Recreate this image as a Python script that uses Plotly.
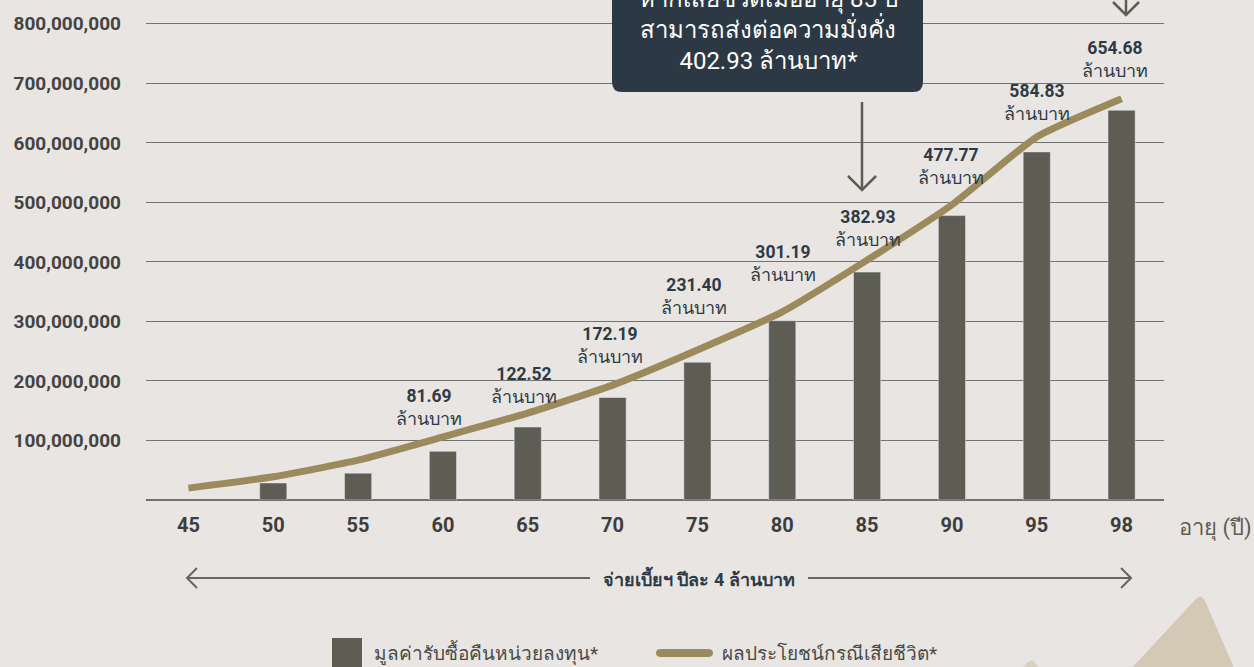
import plotly.graph_objects as go

# ---------------- data ----------------
ages = ["45", "50", "55", "60", "65", "70", "75", "80", "85", "90", "95", "98"]
redemption_value = [None, 28.6e6, 45e6, 81.69e6, 122.52e6, 172.19e6, 231.40e6,
                    301.19e6, 382.93e6, 477.77e6, 584.83e6, 654.68e6]
death_benefit = [20e6, 39e6, 67e6, 106e6, 146e6, 193e6, 252e6, 316e6,
                 402.93e6, 496e6, 610e6, 674e6]
value_labels = [None, None, None, "81.69", "122.52", "172.19", "231.40",
                "301.19", "382.93", "477.77", "584.83", "654.68"]
y_ticks = [100e6, 200e6, 300e6, 400e6, 500e6, 600e6, 700e6, 800e6]
unit_text = "ล้านบาท"
bar_name = "มูลค่ารับซื้อคืนหน่วยลงทุน*"
line_name = "ผลประโยชน์กรณีเสียชีวิต*"
box_lines = ["หากเสียชีวิตเมื่ออายุ 85 ปี", "สามารถส่งต่อความมั่งคั่ง", "402.93 ล้านบาท*"]
premium_text = "จ่ายเบี้ยฯ ปีละ 4 ล้านบาท"
x_title = "อายุ (ปี)"

# ---------------- style ----------------
W, H = 1254, 667
ML, MR, MT, MB = 146, 90, 0, 167
BG = "#e8e5e2"
BAR_C = "#5d5d54"
LINE_C = "#9b8a5c"
NAVY = "#2e3b46"
GRID_C = "#727272"
FONT = "Roboto, Noto Sans, sans-serif"
# label offsets (pixels) relative to bar top
label_dy = {"60": 44, "65": 42, "70": 52, "75": 66, "80": 57, "85": 44, "90": 49, "95": 49, "98": 51}
label_dx = {"60": -14, "65": -4, "70": -3, "75": -3, "80": 1, "85": 1, "90": -1, "95": 0, "98": -7}

PW = W - ML - MR
PH = H - MT - MB


def X(px):
    return (px - ML) / PW


def Y(py):
    return (MT + PH - py) / PH


fig = go.Figure()

fig.add_trace(go.Bar(
    x=ages, y=redemption_value, name=bar_name, marker_color=BAR_C,
    width=0.32, showlegend=False,
))
fig.add_trace(go.Scatter(
    x=ages, y=death_benefit, name=line_name, mode="lines",
    line=dict(color=LINE_C, width=7, shape="spline", smoothing=0.5),
    showlegend=False,
))

annotations = []
for i, (a, v, lab) in enumerate(zip(ages, redemption_value, value_labels)):
    if lab is None:
        continue
    annotations.append(dict(
        x=i, y=v, xref="x", yref="y", yanchor="middle", xanchor="center",
        yshift=label_dy[a], xshift=label_dx[a], showarrow=False,
        text=f"<b><span style='font-size:17.5px'>{lab}</span></b><br>{unit_text}",
        font=dict(family=FONT, size=18, color=NAVY),
    ))

# callout box text
annotations.append(dict(
    x=X(768), y=Y(28), xref="paper", yref="paper", xanchor="center", yanchor="middle",
    showarrow=False, text="<br>".join(box_lines),
    font=dict(family=FONT, size=24, color="white"),
))
# x title
annotations.append(dict(
    x=X(1215), y=Y(528), xref="paper", yref="paper", xanchor="center", yanchor="middle",
    showarrow=False, text=x_title, font=dict(family=FONT, size=22, color=BAR_C),
))
# premium arrow text
annotations.append(dict(
    x=X(699), y=Y(578), xref="paper", yref="paper", xanchor="center", yanchor="middle",
    showarrow=False, text=f"<b>{premium_text}</b>", font=dict(family=FONT, size=18, color=NAVY),
))
# legend texts
annotations.append(dict(
    x=X(372), y=Y(653), xref="paper", yref="paper", xanchor="left", yanchor="middle",
    showarrow=False, text=bar_name, font=dict(family=FONT, size=19, color="#4a4a48"),
))
annotations.append(dict(
    x=X(720), y=Y(653), xref="paper", yref="paper", xanchor="left", yanchor="middle",
    showarrow=False, text=line_name, font=dict(family=FONT, size=19, color="#4a4a48"),
))

shapes = []
# decorative triangles (bottom right)
shapes.append(dict(
    type="path", xref="paper", yref="paper", layer="below", line=dict(width=0),
    fillcolor="#d3c9b5",
    path=(f"M {X(1102)},{Y(700)} L {X(1195)},{Y(600)} "
          f"Q {X(1201)},{Y(593)} {X(1205)},{Y(601)} L {X(1248)},{Y(700)} Z"),
))
shapes.append(dict(
    type="path", xref="paper", yref="paper", layer="below", line=dict(width=0),
    fillcolor="#d8cfbf",
    path=(f"M {X(1016)},{Y(675)} L {X(1028)},{Y(662)} "
          f"Q {X(1031)},{Y(659)} {X(1034)},{Y(662)} L {X(1046)},{Y(675)} Z"),
))
# callout box (rounded bottom corners)
r = 10
L_, R_, T_, B_ = 612, 923, -60, 92
shapes.append(dict(
    type="path", xref="paper", yref="paper", layer="above", line=dict(width=0),
    fillcolor="#2c3945",
    path=(f"M {X(L_)},{Y(T_)} L {X(L_)},{Y(B_ - r)} Q {X(L_)},{Y(B_)} {X(L_ + r)},{Y(B_)} "
          f"L {X(R_ - r)},{Y(B_)} Q {X(R_)},{Y(B_)} {X(R_)},{Y(B_ - r)} L {X(R_)},{Y(T_)} Z"),
))
ARROW_C = "#5d5d54"
# arrow down to age 85
shapes.append(dict(type="path", xref="paper", yref="paper", line=dict(color=ARROW_C, width=2.5),
                   path=f"M {X(862)},{Y(102)} L {X(862)},{Y(189)}"))
shapes.append(dict(type="path", xref="paper", yref="paper", line=dict(color=ARROW_C, width=2.5),
                   path=f"M {X(848)},{Y(176)} L {X(862)},{Y(190)} L {X(876)},{Y(176)}"))
# arrow down to age 98 (top, partly off page)
shapes.append(dict(type="path", xref="paper", yref="paper", line=dict(color=ARROW_C, width=2.5),
                   path=f"M {X(1126)},{Y(-5)} L {X(1126)},{Y(14)}"))
shapes.append(dict(type="path", xref="paper", yref="paper", line=dict(color=ARROW_C, width=2.5),
                   path=f"M {X(1113)},{Y(2)} L {X(1126)},{Y(15)} L {X(1139)},{Y(2)}"))
# premium double arrow
PC = "#66665e"
shapes.append(dict(type="path", xref="paper", yref="paper", line=dict(color=PC, width=2),
                   path=f"M {X(187)},{Y(578)} L {X(590)},{Y(578)}"))
shapes.append(dict(type="path", xref="paper", yref="paper", line=dict(color=PC, width=2),
                   path=f"M {X(808)},{Y(578)} L {X(1131)},{Y(578)}"))
shapes.append(dict(type="path", xref="paper", yref="paper", line=dict(color=PC, width=2),
                   path=f"M {X(197)},{Y(568)} L {X(187)},{Y(578)} L {X(197)},{Y(588)}"))
shapes.append(dict(type="path", xref="paper", yref="paper", line=dict(color=PC, width=2),
                   path=f"M {X(1121)},{Y(568)} L {X(1131)},{Y(578)} L {X(1121)},{Y(588)}"))
# legend swatches
shapes.append(dict(type="rect", xref="paper", yref="paper", line=dict(width=0), fillcolor=BAR_C,
                   x0=X(332), x1=X(362), y0=Y(638), y1=Y(672)))
shapes.append(dict(type="path", xref="paper", yref="paper", line=dict(width=0), fillcolor=LINE_C,
                   path=(f"M {X(661)},{Y(649)} L {X(708)},{Y(649)} Q {X(713)},{Y(649)} {X(713)},{Y(653)} "
                         f"Q {X(713)},{Y(657)} {X(708)},{Y(657)} L {X(661)},{Y(657)} "
                         f"Q {X(656)},{Y(657)} {X(656)},{Y(653)} Q {X(656)},{Y(649)} {X(661)},{Y(649)} Z")))

fig.update_layout(
    width=W, height=H,
    margin=dict(l=ML, r=MR, t=MT, b=MB, autoexpand=False),
    paper_bgcolor=BG, plot_bgcolor=BG,
    showlegend=False,
    shapes=shapes, annotations=annotations,
    font=dict(family=FONT),
    xaxis=dict(
        type="category", categoryorder="array", categoryarray=ages,
        range=[-0.5, len(ages) - 0.5], showgrid=False, showline=False, zeroline=False,
        tickfont=dict(family=FONT, size=20, color="#3d3d3d", weight="bold"),
        ticks="", ticklabelstandoff=11, fixedrange=True, automargin=False,
    ),
    yaxis=dict(
        range=[0, 840e6], tickvals=y_ticks, tickformat=",",
        showgrid=True, gridcolor=GRID_C, gridwidth=1.3,
        zeroline=True, zerolinecolor=GRID_C, zerolinewidth=1.5,
        showline=False, ticks="", ticklabelstandoff=24,
        tickfont=dict(family=FONT, size=19, color="#444444", weight="bold"),
        fixedrange=True, automargin=False,
    ),
)

fig.write_html(
    "out.html",
    config={"displayModeBar": False},
    post_script="document.body.style.margin='0';document.body.style.background='#e8e5e2';",
)
